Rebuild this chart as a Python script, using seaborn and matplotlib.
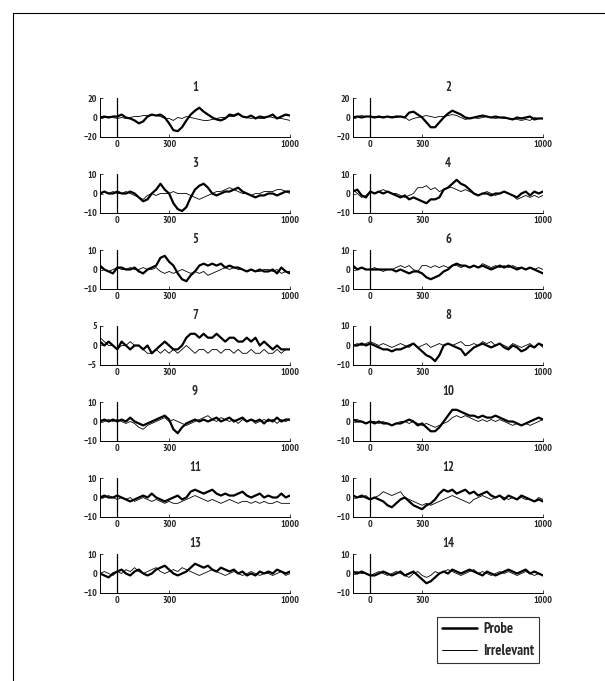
import matplotlib
matplotlib.use("Agg")
import matplotlib.pyplot as plt
import seaborn as sns
from matplotlib import font_manager
from matplotlib.font_manager import FontProperties
from matplotlib.lines import Line2D

# time axis in ms, one sample every 25 ms
times = [-100, -75, -50, -25, 0, 25, 50, 75, 100,
         125, 150, 175, 200, 225, 250, 275, 300, 325,
         350, 375, 400, 425, 450, 475, 500, 525, 550,
         575, 600, 625, 650, 675, 700, 725, 750, 775,
         800, 825, 850, 875, 900, 925, 950, 975, 1000]

panel_titles = [str(i) for i in range(1, 15)]
y_limits = [20, 20, 10, 10, 10, 10, 5, 10, 10, 10, 10, 10, 10, 10]
x_ticks = [0, 300, 1000]
legend_labels = ["Probe", "Irrelevant"]

probe_1 = [0, 1, 0, 1, 1, 3, 0, -1, -3,
           -6, -4, 1, 3, 2, 3, 0, -6, -13,
           -14, -10, -3, 3, 7, 10, 6, 3, 0,
           -2, -3, -1, 3, 2, 4, 1, 0, 2,
           -1, 1, 0, 1, 3, -1, 1, 3, 2]
irrel_1 = [0, 0, 1, 0, -1, 0, -1, 0, 1,
           1, 2, 2, 3, 2, 1, -1, -1, -3,
           0, -1, 1, 0, -1, -2, -3, -3, -2,
           -1, 0, 0, 1, 1, 3, 1, 0, -1,
           0, -1, -1, 1, 0, -1, -1, -2, -3]

probe_2 = [0, 1, 0, 1, 1, 0, 1, 0, 1,
           0, 1, 1, 0, 5, 6, 3, 0, -5,
           -10, -10, -5, 0, 4, 7, 5, 3, 0,
           -1, 0, 1, 2, 1, 0, 1, 0, 0,
           -1, -2, 0, -1, 0, 1, -2, -1, -1]
irrel_2 = [1, 1, 2, 1, 1, 1, 0, 1, 1,
           1, 0, 1, 0, -3, -1, 0, 1, 2,
           1, 0, 1, 1, 2, 3, 2, 0, -2,
           -1, 0, -1, 0, 1, 0, -1, 0, -1,
           -1, -1, -2, -3, -2, -3, 0, -1, -1]

probe_3 = [0, 1, 0, 0, 1, 0, 0, 1, 0,
           -2, -4, -3, 0, 2, 5, 2, 0, -5,
           -8, -9, -7, -2, 2, 4, 5, 3, 0,
           -1, 0, 1, 1, 2, 3, 1, 0, -1,
           -2, -1, -1, 0, 0, -1, 0, 1, 1]
irrel_3 = [0, 1, 0, 1, 0, 0, 1, 0, -1,
           -2, -3, -1, 0, -1, 0, 0, 0, 1,
           0, 0, 0, -1, -2, -3, -2, -1, 0,
           1, 1, 2, 3, 2, 1, 0, 0, -1,
           0, 0, 1, 1, 1, 2, 2, 1, 0]

probe_4 = [1, 2, -1, -2, 1, 0, 1, 0, 1,
           0, -1, -2, -1, -3, -2, -3, -4, -5,
           -3, -3, -2, 2, 3, 5, 7, 5, 4,
           2, 0, -1, 0, 0, -1, 0, 0, 1,
           0, -1, -2, 0, 1, -1, 1, 0, 1]
irrel_4 = [2, 0, -2, -1, 1, 0, 1, 2, 1,
           0, 0, -1, -2, -1, 0, 3, 3, 4,
           2, 3, 1, 2, 3, 3, 2, 1, 2,
           1, 0, -1, 0, 1, 0, -1, 0, 1,
           0, -1, -3, -2, -1, -2, -1, -2, -1]

probe_5 = [2, 0, -1, -2, 1, 1, 0, 0, 1,
           -1, -2, 0, 1, 2, 6, 7, 4, 2,
           -2, -5, -6, -3, -1, 2, 3, 2, 3,
           2, 3, 1, 2, 1, 1, 0, -1, 0,
           -1, 0, -1, -1, 0, -2, 1, -1, -2]
irrel_5 = [1, 0, -1, 0, 1, 0, 0, 1, 0,
           0, 1, 0, 0, 1, -1, -2, -1, -2,
           -1, 0, -1, -2, -1, -2, -1, -3, -2,
           -1, 0, 1, 0, 1, 0, 0, -1, 0,
           -1, -1, 0, 0, -1, 0, -2, -1, -1]

probe_6 = [2, 0, 1, 0, 0, 0, 0, 0, 0,
           0, -1, 0, -1, -2, -1, -1, -2, -4,
           -5, -4, -3, -1, 0, 2, 3, 2, 2,
           1, 2, 1, 2, 1, 0, 1, 2, 1,
           2, 1, 0, 1, 0, 1, 0, -1, -2]
irrel_6 = [1, 0, 1, 0, 0, 1, 0, -1, 0,
           0, 1, 2, 1, 2, 0, -1, 2, 2,
           1, 2, 1, 2, 1, 2, 2, 1, 2,
           1, 2, 1, 3, 2, 1, 2, 1, 2,
           1, 2, 1, 1, 0, 1, 0, 1, 0]

probe_7 = [1, 0, 1, 0, -1, 1, 0, -1, 0,
           0, -1, 0, -2, -1, 0, 1, 0, -1,
           -1, 0, 2, 3, 3, 2, 3, 2, 2,
           3, 2, 1, 2, 2, 1, 1, 2, 1,
           2, 0, 1, 0, -1, 0, -1, -1, -1]
irrel_7 = [2, 1, 0, 0, -1, 0, 0, 1, 0,
           0, -1, -2, -2, -1, -2, -1, -2, -1,
           -2, -1, 0, -1, -2, -1, -1, -2, -1,
           -1, -2, -1, -1, -2, -1, -2, -2, -1,
           -2, -2, -1, -2, -2, -1, -2, -1, -1]

probe_8 = [0, 0, 1, 0, 1, 0, -1, -2, -2,
           -3, -2, -2, -1, 0, 1, -1, -3, -5,
           -6, -8, -5, 0, 1, 0, -1, -2, -5,
           -3, -1, 0, 1, 0, -1, 0, 1, -1,
           -2, 0, -1, -3, -2, 0, -1, 1, 0]
irrel_8 = [0, 1, 0, 1, 2, 1, 0, 1, 0,
           -1, 0, 1, 0, -1, 1, -1, 0, 1,
           -1, 0, 1, 0, 1, 0, 1, 2, 0,
           0, 1, 0, 2, 1, 2, 0, 1, 0,
           -1, 1, 0, -1, 0, 1, -1, 1, -1]

probe_9 = [0, 1, 0, 1, 0, 1, 0, 2, 0,
           -1, -2, -1, 0, 1, 2, 3, 1, -4,
           -6, -3, -1, 0, 1, 0, 1, 0, 1,
           2, 0, 1, 2, 0, 1, 2, 0, 1,
           0, 1, -1, 1, 0, 2, 0, 1, 1]
irrel_9 = [1, 0, 1, 0, 1, 0, -1, 0, -1,
           -3, -4, -2, -1, 0, 1, 2, 0, 1,
           0, -1, -2, -1, 0, 1, 2, 3, 1,
           0, 2, 1, 0, 1, -1, 1, 0, 1,
           -1, 0, 1, 0, 1, -1, 1, 0, 1]

probe_10 = [1, 0, 0, -1, 0, -1, 0, -1, -1,
            -2, -1, -1, 0, 1, 0, -2, -1, -3,
            -5, -5, -3, 0, 3, 6, 6, 5, 4,
            3, 3, 2, 3, 2, 2, 3, 2, 1,
            0, 0, -1, -2, -1, 0, 1, 2, 1]
irrel_10 = [1, 1, 0, -1, 0, 0, -1, 0, -1,
            -2, -1, 0, 0, -1, 0, -1, -2, -1,
            -2, -3, -2, -1, 0, 2, 3, 2, 3,
            2, 1, 0, 1, 0, 1, 0, 1, 0,
            -1, -2, -1, -2, -1, -2, -1, 0, 1]

probe_11 = [0, 1, 0, 0, 1, 0, -1, -2, -1,
            0, 1, 0, 2, 0, -1, -2, -1, 0,
            1, -1, 0, 3, 4, 3, 2, 3, 4,
            2, 1, 2, 1, 1, 2, 3, 1, 0,
            1, 2, 0, 1, 0, 0, 2, 0, 1]
irrel_11 = [0, 0, 1, 0, -1, 0, -1, 0, -2,
            -1, 0, -1, -2, -1, -2, -3, -2, -3,
            -3, -2, -1, 0, 1, 0, -1, -2, -1,
            -2, -3, -2, -1, -2, -3, -2, -2, -3,
            -2, -3, -2, -3, -3, -2, -3, -3, -3]

probe_12 = [1, 0, 1, 0, -1, 0, -1, -2, -4,
            -5, -3, -1, 0, -2, -4, -5, -6, -4,
            -3, -1, 2, 4, 3, 4, 2, 3, 4,
            2, 3, 1, 2, 3, 1, 0, 1, -1,
            1, 0, -1, 1, 0, -1, -2, -1, -2]
irrel_12 = [1, 0, 0, 1, -1, 0, 1, 3, 2,
            1, 2, 3, 0, -1, -2, -3, -4, -3,
            -4, -3, -2, -1, 0, 1, 0, -1, -2,
            -3, -1, 0, 1, 0, -1, 0, 1, 0,
            -1, 0, -1, 0, -1, -1, -2, 0, -1]

probe_13 = [0, -1, -2, 0, 1, 2, 0, -1, 1,
            2, 0, -1, 0, 2, 3, 4, 2, 0,
            -1, 0, 1, 3, 5, 4, 3, 4, 2,
            1, 3, 2, 1, 2, 0, 1, -1, 0,
            -1, 1, 0, 1, 0, 2, 1, 0, 1]
irrel_13 = [0, 1, 0, -1, 1, 0, 2, 1, 3,
            1, 0, 1, 2, 3, 1, 0, 1, 2,
            1, 3, 2, 1, 0, -1, 0, 1, 2,
            1, 0, -1, 0, 1, 0, -1, 0, 1,
            0, -1, 0, 0, -1, 0, 1, -1, 0]

probe_14 = [1, 0, 1, 0, -1, -1, 0, 1, 0,
            -1, 0, 1, -1, 0, 1, -1, -3, -5,
            -4, -2, 0, 1, 0, 2, 1, 0, 1,
            2, 1, 0, -1, 1, 0, -1, 0, 1,
            2, 1, 0, 1, 2, 0, 1, 0, -1]
irrel_14 = [0, 1, 0, 0, -1, 0, 1, 0, -1,
            0, 1, 0, -1, -2, 0, 1, -1, -2,
            -1, 1, 0, 1, 2, 1, 0, -1, 0,
            1, 2, 0, 1, 0, -1, 0, 1, 0,
            1, 0, -1, 0, 1, 0, -1, 0, -1]

probes = [probe_1, probe_2, probe_3, probe_4, probe_5, probe_6, probe_7,
          probe_8, probe_9, probe_10, probe_11, probe_12, probe_13, probe_14]
irrels = [irrel_1, irrel_2, irrel_3, irrel_4, irrel_5, irrel_6, irrel_7,
          irrel_8, irrel_9, irrel_10, irrel_11, irrel_12, irrel_13, irrel_14]

sns.set_style("ticks")


# look for a narrow bold face (the original uses a condensed Helvetica)
def pick_font():
    entries = font_manager.fontManager.ttflist
    bold = lambda e: (e.weight == "bold" or (isinstance(e.weight, int) and e.weight >= 600))
    for e in entries:
        if "Narrow" in e.name and bold(e):
            return e.fname
    for e in entries:
        if e.stretch in ("condensed", "semi-condensed", "extra-condensed") and bold(e):
            return e.fname
    for e in entries:
        if "Condensed" in e.fname and "Bold" in e.fname and "Italic" not in e.fname:
            return e.fname
    return font_manager.findfont(FontProperties(family="Liberation Sans", weight="bold"))


font_file = pick_font()


def fp(size):
    return FontProperties(fname=font_file, size=size)


W, H = 605, 681
fig = plt.figure(figsize=(W / 100, H / 100), dpi=100)

col_left = [100, 353]
ax_w, ax_h = 190, 39
row_step = 76

for i in range(14):
    r, c = divmod(i, 2)
    top = 98 + row_step * r
    ax = fig.add_axes([col_left[c] / W, 1 - (top + ax_h) / H, ax_w / W, ax_h / H])
    lim = y_limits[i]
    sns.lineplot(x=times, y=irrels[i], ax=ax, color="k", linewidth=0.6)
    sns.lineplot(x=times, y=probes[i], ax=ax, color="k", linewidth=1.6)
    ax.axvline(0, color="k", linewidth=0.9)
    ax.set_xlim(-100, 1000)
    ax.set_ylim(-lim, lim)
    ax.set_xticks(x_ticks)
    ax.set_yticks([-lim, 0, lim])
    ax.tick_params(direction="in", length=2.5, width=0.6, pad=2)
    for lbl in ax.get_xticklabels() + ax.get_yticklabels():
        lbl.set_fontproperties(fp(7))
    for s in ["left", "bottom"]:
        ax.spines[s].set_linewidth(0.7)
        ax.spines[s].set_color("k")
    sns.despine(ax=ax)
    ax.set_title(panel_titles[i], fontproperties=fp(9), pad=5)

handles = [Line2D([], [], color="k", linewidth=1.8), Line2D([], [], color="k", linewidth=0.7)]
leg = fig.legend(handles, legend_labels, loc="lower left",
                 bbox_to_anchor=(437 / W, 1 - 663 / H), prop=fp(10.5),
                 handlelength=2.4, handletextpad=0.4, borderaxespad=0, fancybox=False,
                 frameon=True, borderpad=0.35, labelspacing=0.55)
leg.get_frame().set_edgecolor("k")
leg.get_frame().set_linewidth(0.8)

# page border
fig.add_artist(Line2D([13 / W, 13 / W], [0, 1 - 13 / H], transform=fig.transFigure, color="k", linewidth=0.8))
fig.add_artist(Line2D([13 / W, 1], [1 - 13 / H, 1 - 13 / H], transform=fig.transFigure, color="k", linewidth=0.8))

fig.savefig("out.png", dpi=100)
